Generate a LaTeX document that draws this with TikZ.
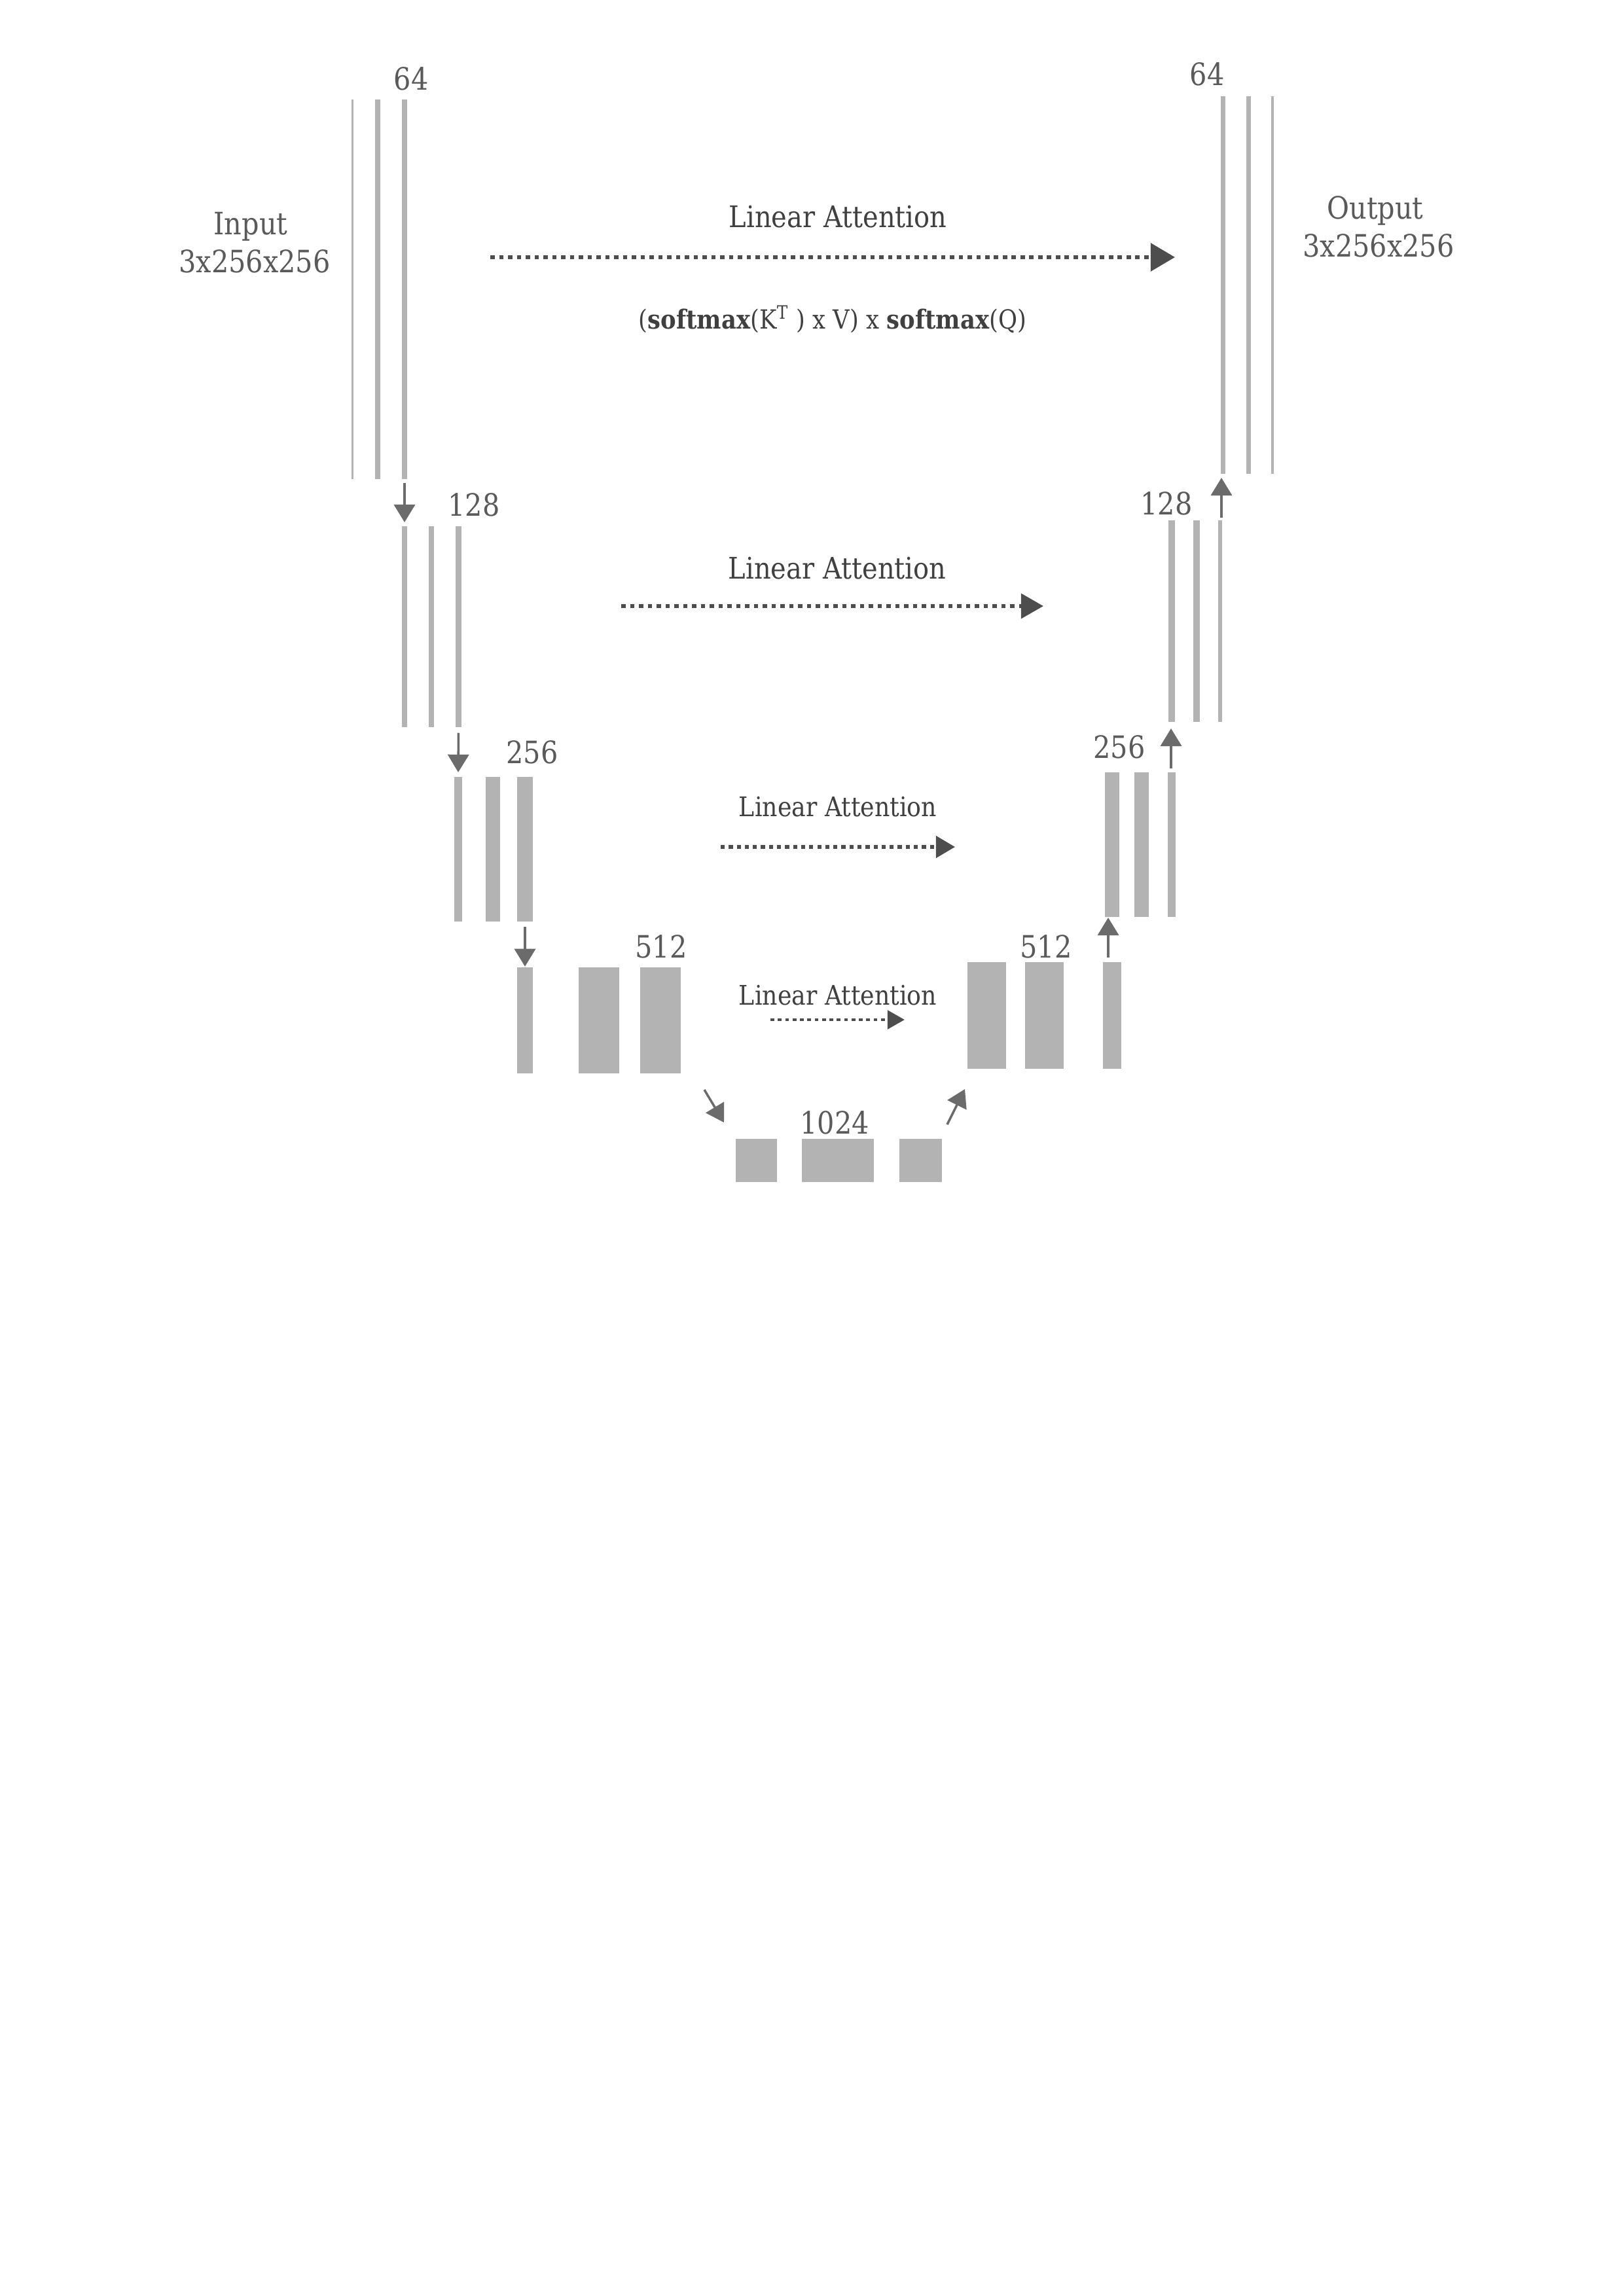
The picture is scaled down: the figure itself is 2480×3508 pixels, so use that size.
\documentclass[tikz,border=0pt]{standalone}
\usepackage{fontspec}
\setmainfont{DejaVu Serif}[FakeStretch=0.88]
\usetikzlibrary{arrows.meta}
\definecolor{barc}{HTML}{B3B3B3}
\definecolor{labc}{HTML}{5A5A5A}
\definecolor{lac}{HTML}{404040}
\definecolor{arc}{HTML}{6B6B6B}
\definecolor{dotc}{HTML}{4D4D4D}
\newcommand\mkbar[5]{\node[bar, minimum width={(#4-#2)*0.24pt}, minimum height={(#5-#3)*0.24pt}] (#1) at ({(#2+#4)/2},{(#3+#5)/2}) {};}
\tikzset{
  bar/.style={rectangle, fill=barc, draw=none, inner sep=0pt, outer sep=0pt},
  lab/.style={anchor=base, inner sep=0pt, text=labc, font=\fontsize{11.3}{13}\selectfont},
  latxt/.style={anchor=base, inner sep=0pt, text=lac, font=\fontsize{10.9}{12}\selectfont},
  formtxt/.style={anchor=base, inner sep=0pt, text=lac, font=\fontsize{9.65}{12}\selectfont},
  latxtsm/.style={anchor=base, inner sep=0pt, text=lac, font=\fontsize{9.9}{11}\selectfont},
  sarrow/.style={draw=arc, line width=0.85pt, -{Triangle[length=6.5pt, width=7.7pt]}, arc},
  dotarrow/.style={draw=dotc, line cap=butt, dash pattern=on 1.62pt off 1.62pt, dotc},
}
\begin{document}
\begin{tikzpicture}[x=0.24pt, y=-0.24pt]
\fill[white] (0,0) rectangle (2480,3508);
\useasboundingbox (0,0) rectangle (2480,3508);

% left level 1
\mkbar{a1}{537}{152}{540}{732}
\mkbar{a2}{573}{152}{581}{732}
\mkbar{a3}{614}{152}{622}{732}
% left level 2
\mkbar{b1}{614}{804}{622}{1111}
\mkbar{b2}{655}{804}{663}{1111}
\mkbar{b3}{696}{804}{705}{1111}
% left level 3
\mkbar{c1}{694}{1187}{706}{1408}
\mkbar{c2}{742}{1187}{764}{1408}
\mkbar{c3}{790}{1187}{814}{1408}
% left level 4
\mkbar{d1}{790}{1478}{814}{1640}
\mkbar{d2}{884}{1478}{946}{1640}
\mkbar{d3}{978}{1478}{1040}{1640}
% bottom
\mkbar{e1}{1124}{1740}{1187}{1806}
\mkbar{e2}{1225}{1740}{1335}{1806}
\mkbar{e3}{1374}{1740}{1439}{1806}
% right level 4
\mkbar{f1}{1478}{1470}{1537}{1633}
\mkbar{f2}{1566}{1470}{1625}{1633}
\mkbar{f3}{1685}{1470}{1713}{1633}
% right level 3
\mkbar{g1}{1688}{1180}{1710}{1401}
\mkbar{g2}{1733}{1180}{1755}{1401}
\mkbar{g3}{1784}{1180}{1796}{1401}
% right level 2
\mkbar{h1}{1785}{795}{1795}{1103}
\mkbar{h2}{1823}{795}{1833}{1103}
\mkbar{h3}{1861}{795}{1867}{1103}
% right level 1
\mkbar{i1}{1865}{147}{1872}{724}
\mkbar{i2}{1904}{147}{1911}{724}
\mkbar{i3}{1942}{147}{1946}{724}

% labels
\node[lab] (l64a) at (628,138) {64};
\node[lab] (l64b) at (1844,131) {64};
\node[lab] (inp) at (383,359) {Input};
\node[lab] (inpd) at (389,417) {3x256x256};
\node[lab] (outp) at (2101,335) {Output};
\node[lab] (outpd) at (2106,393) {3x256x256};
\node[lab] (l128a) at (724,789) {128};
\node[lab] (l128b) at (1782,787) {128};
\node[lab] (l256a) at (813,1166) {256};
\node[lab] (l256b) at (1710,1158) {256};
\node[lab] (l512a) at (1010,1463) {512};
\node[lab] (l512b) at (1598,1463) {512};
\node[lab] (l1024) at (1275,1732) {1024};

\node[latxt] (la1) at (1280,348) {Linear Attention};
\node[formtxt] (form) at (1272,503) {(\textbf{softmax}(K\textsuperscript{T} ) x V) x \textbf{softmax}(Q)};
\node[latxt] (la2) at (1279,885) {Linear Attention};
\node[latxtsm] (la3) at (1280,1247) {Linear Attention};
\node[latxtsm] (la4) at (1280,1535) {Linear Attention};

% dotted attention arrows
\coordinate (p1a) at (749,393);  \coordinate (p1b) at (1795,393);
\coordinate (p2a) at (949,926);  \coordinate (p2b) at (1594,926);
\coordinate (p3a) at (1101,1294); \coordinate (p3b) at (1459,1294);
\coordinate (p4a) at (1177,1558); \coordinate (p4b) at (1382,1558);
\draw[dotarrow, line width=1.45pt, -{Triangle[length=8.9pt, width=10.1pt]}] (p1a) -- (p1b);
\draw[dotarrow, line width=1.35pt, -{Triangle[length=8.2pt, width=9.0pt]}] (p2a) -- (p2b);
\draw[dotarrow, line width=1.25pt, dash pattern=on 1.5pt off 1.45pt, -{Triangle[length=7.0pt, width=7.9pt]}] (p3a) -- (p3b);
\draw[dotarrow, line width=1.15pt, dash pattern=on 1.4pt off 1.3pt, -{Triangle[length=6.3pt, width=6.8pt]}] (p4a) -- (p4b);

% solid arrows
\draw[sarrow, shorten <=1.44pt, shorten >=1.44pt] (a3.south) -- (b1.north);
\draw[sarrow, shorten <=2.1pt, shorten >=1.7pt] (b3.south) -- (c1.north);
\draw[sarrow, shorten <=1.9pt, shorten >=0.3pt] (c3.south) -- (d1.north);
\coordinate (s4a) at (1076,1665); \coordinate (s4b) at (1106,1715);
\draw[sarrow] (s4a) -- (s4b);
\coordinate (s5a) at (1447,1718); \coordinate (s5b) at (1474,1664);
\draw[sarrow] (s5a) -- (s5b);
\coordinate (s6a) at (1693,1463); \coordinate (s6b) at (1693,1402);
\draw[sarrow] (s6a) -- (s6b);
\coordinate (s7a) at (1789,1174); \coordinate (s7b) at (1789,1113);
\draw[sarrow] (s7a) -- (s7b);
\coordinate (s8a) at (1866,791); \coordinate (s8b) at (1866,730);
\draw[sarrow] (s8a) -- (s8b);
\end{tikzpicture}
\end{document}
